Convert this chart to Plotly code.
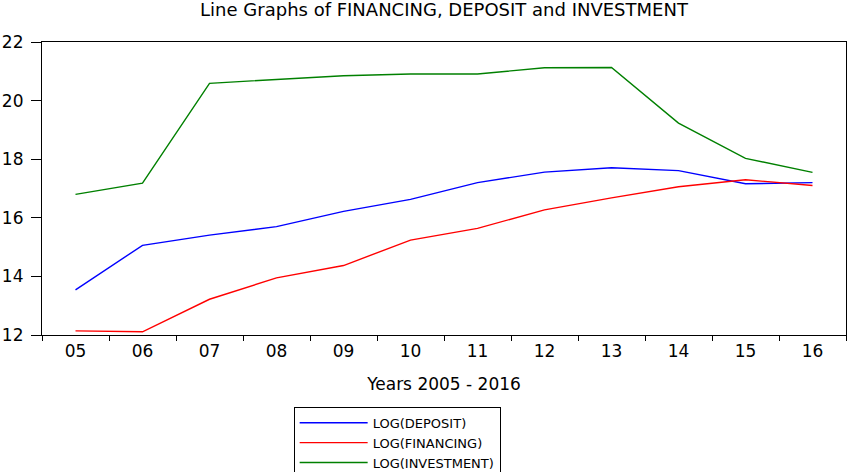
import plotly.graph_objects as go

# Years (two-digit labels) and the three log series
years = ["05", "06", "07", "08", "09", "10", "11", "12", "13", "14", "15", "16"]
log_deposit = [13.54, 15.06, 15.41, 15.70, 16.22, 16.63, 17.20, 17.56, 17.71, 17.61, 17.16, 17.20]
log_financing = [12.14, 12.11, 13.22, 13.95, 14.37, 15.24, 15.64, 16.27, 16.68, 17.06, 17.30, 17.10]
log_investment = [16.80, 17.18, 20.59, 20.73, 20.85, 20.91, 20.91, 21.12, 21.13, 19.23, 18.03, 17.55]

font_family = "DejaVu Sans, Liberation Sans, Arial, sans-serif"

fig = go.Figure()
fig.add_trace(go.Scatter(x=years, y=log_deposit, mode="lines", name="LOG(DEPOSIT)",
                         line=dict(color="#0000ff", width=1.4)))
fig.add_trace(go.Scatter(x=years, y=log_financing, mode="lines", name="LOG(FINANCING)",
                         line=dict(color="#ff0000", width=1.4)))
fig.add_trace(go.Scatter(x=years, y=log_investment, mode="lines", name="LOG(INVESTMENT)",
                         line=dict(color="#008000", width=1.4)))

fig.update_layout(
    width=850, height=472,
    margin=dict(l=42, r=4, t=42, b=137, autoexpand=False),
    paper_bgcolor="white", plot_bgcolor="white",
    font=dict(family=font_family, size=17, color="black"),
    title=dict(text="Line Graphs of FINANCING, DEPOSIT and INVESTMENT",
               x=444 / 850, xanchor="center", y=1.0, yanchor="top",
               pad=dict(t=3, b=0), font=dict(size=18)),
    showlegend=True,
    legend=dict(orientation="v", x=0.313, xanchor="left",
                y=-0.245, yanchor="top",
                bordercolor="black", borderwidth=1, bgcolor="white",
                font=dict(size=13), tracegroupgap=0, itemwidth=68),
)

fig.update_xaxes(
    type="category", range=[-0.5, 11.5], automargin=False,
    tickson="boundaries", ticks="outside", ticklen=5, tickcolor="black",
    tickfont=dict(size=17),
    showline=True, linecolor="black", linewidth=1.2, mirror=True,
    showgrid=False, zeroline=False,
    title=dict(text="Years 2005 - 2016", standoff=18, font=dict(size=17)),
)
fig.update_yaxes(
    range=[12, 22], dtick=2, tick0=12, automargin=False,
    ticks="outside", ticklen=10, tickcolor="black", ticklabelstandoff=4,
    tickfont=dict(size=17),
    showline=True, linecolor="black", linewidth=1.2, mirror=True,
    showgrid=False, zeroline=False,
)

# drop the browser's default 8px body margin so the figure fills the window
fig.write_html("out.html", config={"displayModeBar": False},
               post_script="document.body.style.margin = '0';")
